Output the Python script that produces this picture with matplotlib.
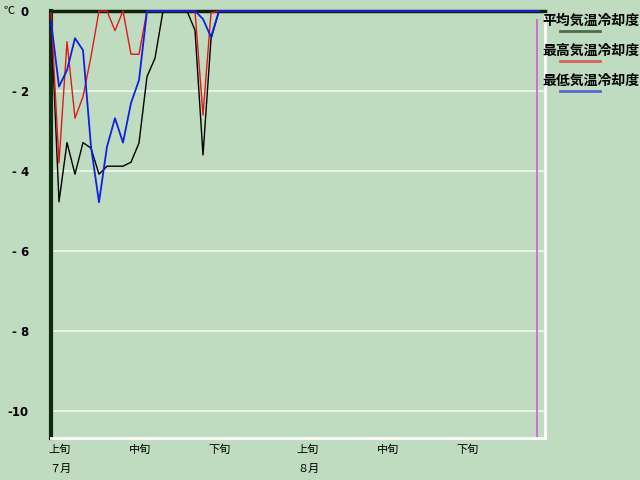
import matplotlib.pyplot as plt

plt.rcParams["font.family"] = ["Noto Sans CJK JP", "DejaVu Sans"]

# days since July 1 (0..61 = Jul 1 .. Aug 31)
days = list(range(62))

avg_cool = [-0.15, -4.77, -3.29, -4.08, -3.29, -3.43, -4.08, -3.88, -3.88, -3.88,
            -3.78, -3.30, -1.64, -1.18, 0, 0, 0, 0, -0.48, -3.60,
            -0.70, 0] + [0] * 40
max_cool = [-0.05, -3.80, -0.77, -2.68, -2.14, -1.14, 0, 0, -0.49, 0,
            -1.08, -1.08, 0, 0, 0, 0, 0, 0, 0, -2.60,
            -0.05, 0] + [0] * 40
min_cool = [-0.25, -1.89, -1.48, -0.68, -0.98, -3.39, -4.78, -3.39, -2.68, -3.29,
            -2.30, -1.73, 0, 0, 0, 0, 0, 0, 0, -0.20,
            -0.65, 0] + [0] * 40

legend_labels = ["平均気温冷却度", "最高気温冷却度", "最低気温冷却度"]
legend_colors = ["#4f6a4f", "#d86060", "#5a68d0"]

yticks = [0, -2, -4, -6, -8, -10]
ytick_labels = ["0", "- 2", "- 4", "- 6", "- 8", "-10"]

xlabel_pos = [0, 10, 20, 31, 41, 51]
xlabel_text = ["上旬", "中旬", "下旬", "上旬", "中旬", "下旬"]
month_pos = [0, 31]
month_text = ["７月", "８月"]

today = 60.7

bg = "#c0dcc0"
fig = plt.figure(figsize=(6.4, 4.8), dpi=100, facecolor=bg)
ax = fig.add_axes([51 / 640, 1 - 438 / 480, 494 / 640, 427 / 480], facecolor=bg)

ax.set_xlim(0, 61.75)
ax.set_ylim(-10.675, 0)

for y in yticks[1:]:
    ax.axhline(y, color="#e6f2e6", lw=1.5, zorder=1)

ax.plot(days, avg_cool, color="black", lw=1, zorder=3, clip_on=False)
ax.plot(days, max_cool, color="#e01818", lw=1, zorder=4, clip_on=False)
ax.plot(days, min_cool, color="#1020e0", lw=1.3, zorder=5, clip_on=False)

ax.axvline(today, ymin=0, ymax=1 - 9 / 427, color="#d070d0", lw=1.5, zorder=2)

# frame: dark left/top, white right/bottom
ax.spines["left"].set_color("#0f2a0f")
ax.spines["left"].set_linewidth(3)
ax.spines["top"].set_color("#0f200f")
ax.spines["top"].set_linewidth(2.5)
ax.spines["right"].set_color("white")
ax.spines["right"].set_linewidth(2)
ax.spines["bottom"].set_color("white")
ax.spines["bottom"].set_linewidth(2)

ax.set_yticks(yticks)
ax.set_yticklabels(ytick_labels, family="DejaVu Sans", fontweight="bold", fontsize=8.5)
ax.tick_params(axis="y", length=0, pad=16)
ax.set_xticks([])

fig.text(4 / 640, 1 - 11 / 480, "℃", fontsize=8, va="center", ha="left")

tr = ax.get_xaxis_transform()
for x, t in zip(xlabel_pos, xlabel_text):
    ax.text(x - 0.3, -0.028, t, transform=tr, fontsize=8, ha="left", va="center")
for x, t in zip(month_pos, month_text):
    ax.text(x - 0.2, -0.072, t, transform=tr, fontsize=8, ha="left", va="center")

# legend on the right
for i, (lab, col) in enumerate(zip(legend_labels, legend_colors)):
    ty = 1 - (21 + 30 * i) / 480
    ly = 1 - (31 + 30 * i) / 480
    fig.text(542 / 640, ty, lab, fontsize=10, fontweight="bold", va="center", ha="left")
    fig.add_artist(plt.Line2D([560 / 640, 600 / 640], [ly, ly], color=col, lw=2,
                              transform=fig.transFigure))

fig.savefig("out.png", dpi=100, facecolor=bg)
